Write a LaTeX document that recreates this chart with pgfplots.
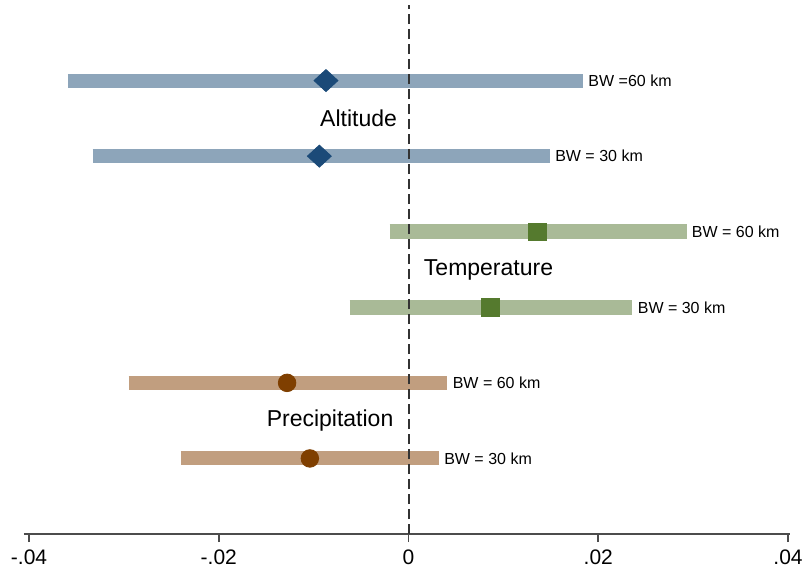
\documentclass[border=0pt]{standalone}
\usepackage{pgfplots}
\pgfplotsset{compat=1.18}
\usepackage{fontspec}
\setmainfont{Liberation Sans}
\definecolor{altbar}{HTML}{8DA5BA}
\definecolor{altmk}{HTML}{1B4A78}
\definecolor{tembar}{HTML}{A9BA97}
\definecolor{temmk}{HTML}{557A2E}
\definecolor{prebar}{HTML}{C19E7F}
\definecolor{premk}{HTML}{7F3F00}
\begin{document}
\begin{tikzpicture}
\begin{axis}[
  scale only axis,
  width=383pt, height=264.5pt,
  xmin=-0.04053, xmax=0.04021,
  ymin=0, ymax=7,
  axis x line*=bottom,
  axis y line=none,
  x axis line style={draw=black!70, line width=0.9pt, -},
  xtick={-0.04,-0.02,0,0.02,0.04},
  xticklabels={-.04,-.02,0,.02,.04},
  x tick label style={font=\fontsize{10.5}{12}\selectfont, yshift=-0.5pt},
  tick align=outside,
  major tick length=4pt,
  x tick style={draw=black!70, line width=0.8pt},
  clip=false,
]
% bars (confidence intervals)
\addplot[altbar, line width=7pt] coordinates {(-0.0359,6) (0.0184,6)};
\addplot[altbar, line width=7pt] coordinates {(-0.0333,5) (0.0149,5)};
\addplot[tembar, line width=7.5pt] coordinates {(-0.0020,4) (0.0293,4)};
\addplot[tembar, line width=7.5pt] coordinates {(-0.0062,3) (0.0236,3)};
\addplot[prebar, line width=7pt] coordinates {(-0.0295,2) (0.0041,2)};
\addplot[prebar, line width=7pt] coordinates {(-0.0240,1) (0.0032,1)};
% zero line
\addplot[black!80, line width=1pt, dash pattern=on 5pt off 2.5pt] coordinates {(0,0) (0,7)};
% point estimates
\addplot[only marks, mark=diamond*, mark size=5.5pt, mark options={xscale=1.45, fill=altmk, draw=altmk}] coordinates {(-0.0087,6) (-0.0094,5)};
\addplot[only marks, mark=square*, mark size=4.4pt, mark options={fill=temmk, draw=temmk}] coordinates {(0.0136,4) (0.0086,3)};
\addplot[only marks, mark=*, mark size=4.4pt, mark options={fill=premk, draw=premk}] coordinates {(-0.0128,2) (-0.0104,1)};
% labels
\node[anchor=west, font=\fontsize{8}{10}\selectfont, inner sep=0pt, xshift=2.5pt] at (axis cs:0.0184,6) {BW =60 km};
\node[anchor=west, font=\fontsize{8}{10}\selectfont, inner sep=0pt, xshift=2.5pt] at (axis cs:0.0149,5) {BW = 30 km};
\node[anchor=west, font=\fontsize{8}{10}\selectfont, inner sep=0pt, xshift=2.5pt] at (axis cs:0.0293,4) {BW = 60 km};
\node[anchor=west, font=\fontsize{8}{10}\selectfont, inner sep=0pt, xshift=2.5pt] at (axis cs:0.0236,3) {BW = 30 km};
\node[anchor=west, font=\fontsize{8}{10}\selectfont, inner sep=0pt, xshift=2.5pt] at (axis cs:0.0041,2) {BW = 60 km};
\node[anchor=west, font=\fontsize{8}{10}\selectfont, inner sep=0pt, xshift=2.5pt] at (axis cs:0.0032,1) {BW = 30 km};
\node[font=\fontsize{11.5}{13}\selectfont, inner sep=0pt] at (axis cs:-0.00527,5.5) {Altitude};
\node[font=\fontsize{11.5}{13}\selectfont, inner sep=0pt] at (axis cs:0.00843,3.5) {Temperature};
\node[font=\fontsize{11.5}{13}\selectfont, inner sep=0pt] at (axis cs:-0.00827,1.5) {Precipitation};
\end{axis}
\pgfresetboundingbox
\path[use as bounding box] (-12pt,-20.5pt) rectangle (389.5pt,267pt);
\end{tikzpicture}
\end{document}
